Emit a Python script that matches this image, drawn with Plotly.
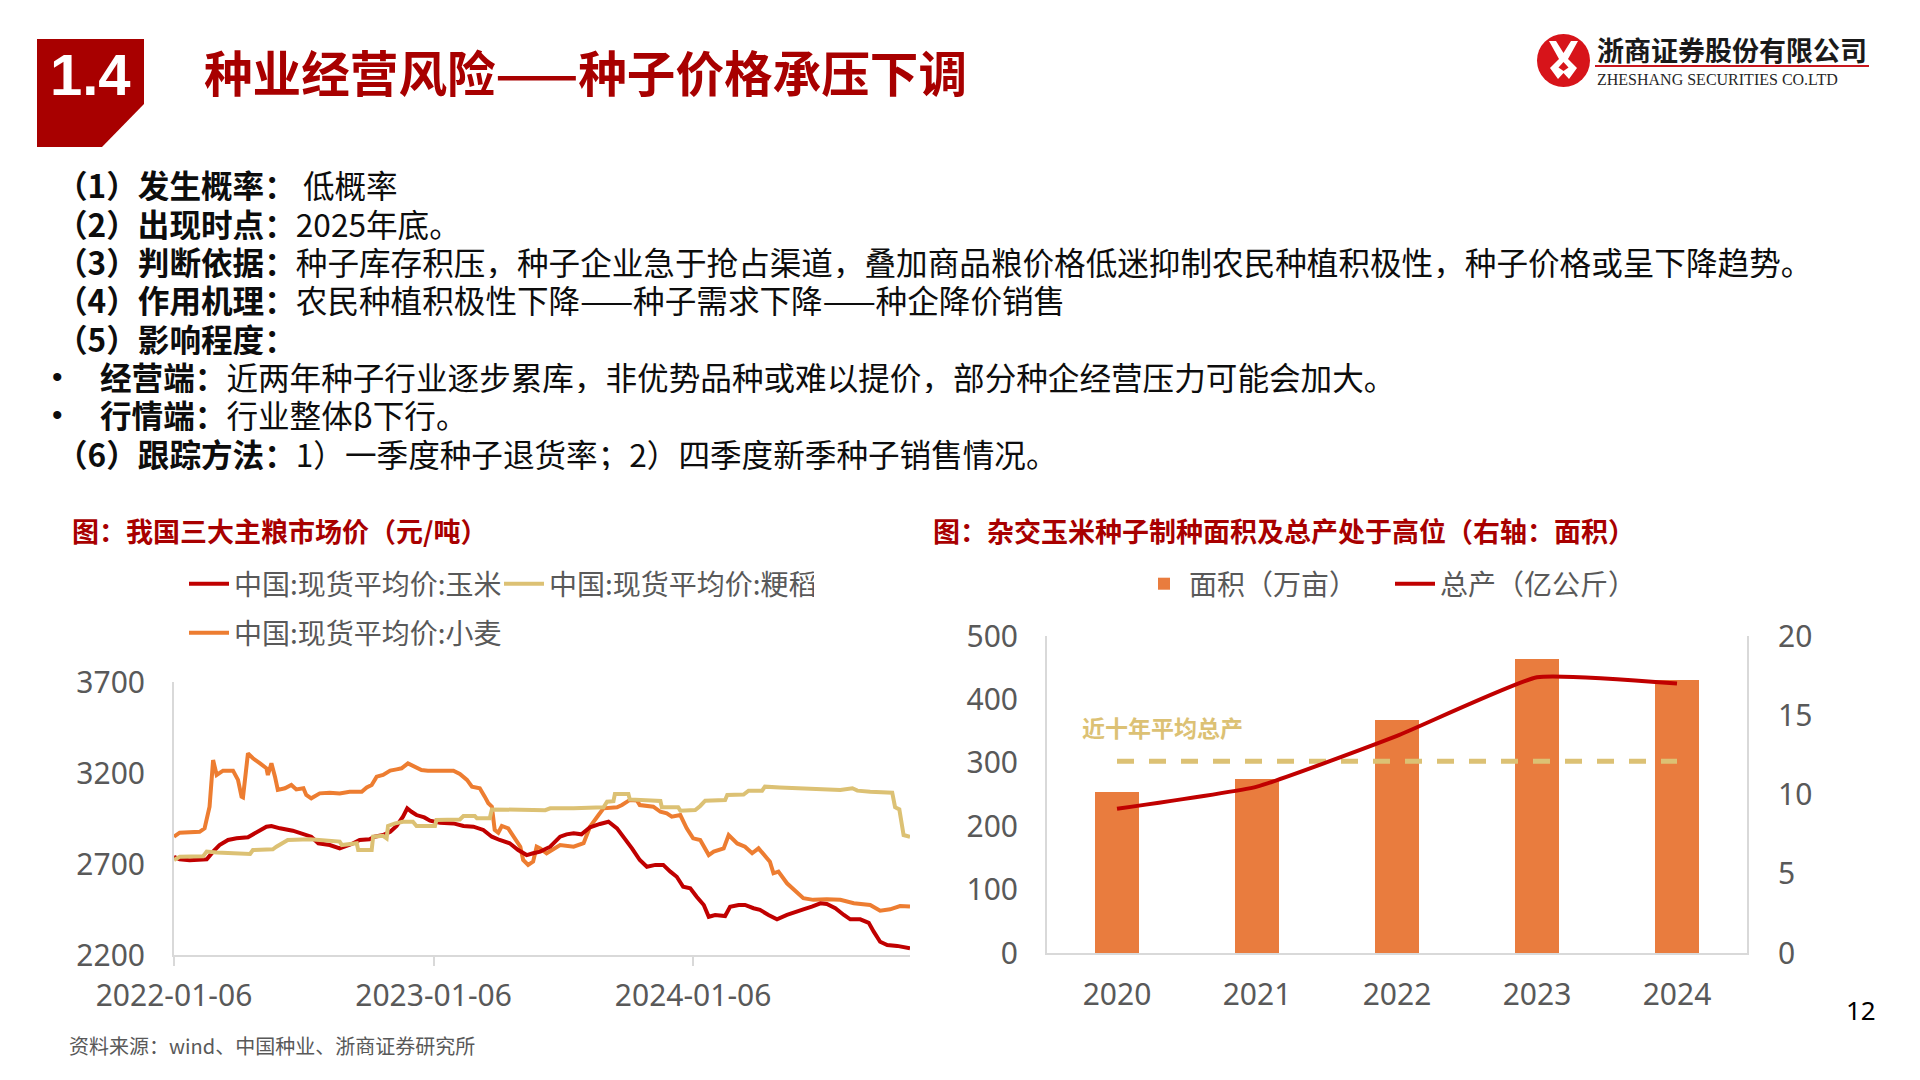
import plotly.graph_objects as go

# ---------------- data ----------------
corn_dates = ["2022-01-06","2022-01-14","2022-01-28","2022-02-21","2022-03-02","2022-03-11","2022-03-23","2022-04-04",
              "2022-04-20","2022-04-30","2022-05-07","2022-05-16","2022-05-23","2022-06-04","2022-06-22","2022-07-04",
              "2022-07-18","2022-07-28","2022-08-13","2022-08-27","2022-09-13","2022-09-24","2022-10-08","2022-10-15",
              "2022-10-27","2022-11-06","2022-11-15","2022-11-24","2022-11-30","2022-12-06","2022-12-13","2022-12-24",
              "2023-01-01","2023-01-15","2023-02-03","2023-02-17","2023-03-03","2023-03-17","2023-03-29","2023-04-09",
              "2023-04-23","2023-05-05","2023-05-17","2023-05-26","2023-06-05","2023-06-19","2023-07-03","2023-07-12",
              "2023-07-22","2023-08-02","2023-08-14","2023-08-28","2023-09-09","2023-09-21","2023-10-02","2023-10-12",
              "2023-10-23","2023-11-02","2023-11-14","2023-11-25","2023-12-05","2023-12-14","2023-12-23","2024-01-02",
              "2024-01-11","2024-01-21","2024-01-28","2024-02-06","2024-02-20","2024-02-27","2024-03-10","2024-03-19",
              "2024-03-31","2024-04-09","2024-04-21","2024-05-03","2024-05-17","2024-05-29","2024-06-09","2024-06-21",
              "2024-07-03","2024-07-12","2024-07-24","2024-08-05","2024-08-14","2024-08-28","2024-09-09","2024-09-16",
              "2024-09-25","2024-10-05","2024-10-19","2024-11-06"]
corn_price = [2740,2726,2720,2726,2768,2804,2832,2841,
              2847,2869,2887,2905,2909,2896,2883,2869,
              2850,2814,2804,2786,2810,2832,2836,2850,
              2859,2877,2909,2960,3006,2987,2969,2956,
              2938,2927,2923,2909,2905,2887,2850,2832,
              2814,2777,2749,2759,2768,2795,2850,2863,
              2869,2863,2902,2920,2932,2896,2841,2786,
              2722,2685,2695,2695,2658,2630,2575,2567,
              2520,2475,2410,2420,2414,2465,2475,2475,
              2457,2448,2420,2396,2420,2438,2451,2466,
              2484,2480,2457,2420,2396,2396,2377,2328,
              2273,2255,2250,2237]

rice_dates = ["2022-01-06","2022-01-14","2022-02-16","2022-02-21","2022-03-07","2022-04-23","2022-04-27","2022-05-25",
              "2022-05-30","2022-06-06","2022-06-15","2022-07-16","2022-08-27","2022-08-30","2022-09-10","2022-09-20",
              "2022-09-22","2022-10-11","2022-10-13","2022-10-27","2022-11-01","2022-11-03","2022-11-13","2022-11-24",
              "2022-12-08","2022-12-13","2023-01-08","2023-01-10","2023-02-12","2023-02-17","2023-03-05","2023-03-08",
              "2023-03-26","2023-03-29","2023-06-12","2023-06-19","2023-07-22","2023-09-02","2023-09-07","2023-09-16",
              "2023-09-18","2023-10-07","2023-10-09","2023-11-21","2023-11-23","2023-12-16","2023-12-19","2024-01-09",
              "2024-01-16","2024-01-23","2024-02-20","2024-02-23","2024-03-17","2024-03-24","2024-04-12","2024-04-16",
              "2024-05-07","2024-06-14","2024-07-31","2024-08-17","2024-08-24","2024-09-11","2024-10-12","2024-10-16",
              "2024-10-22","2024-10-28","2024-11-06"]
rice_price = [2722,2740,2743,2768,2763,2755,2777,2781,
              2795,2814,2832,2836,2823,2804,2810,2814,
              2777,2777,2850,2855,2841,2909,2923,2932,
              2932,2909,2909,2942,2945,2964,2964,2951,
              2951,3000,2996,3006,3006,3012,3042,3045,
              3085,3085,3055,3046,3012,3012,2993,2997,
              3019,3048,3052,3079,3082,3103,3103,3125,
              3121,3116,3107,3116,3103,3097,3092,3012,
              3000,2859,2850]

wheat_dates = ["2022-01-06","2022-01-14","2022-02-11","2022-02-18","2022-02-25","2022-03-02","2022-03-07","2022-03-16",
               "2022-03-30","2022-04-06","2022-04-11","2022-04-13","2022-04-20","2022-04-27","2022-05-07","2022-05-16",
               "2022-05-18","2022-05-23","2022-05-28","2022-06-01","2022-06-11","2022-06-20","2022-06-27","2022-07-07",
               "2022-07-11","2022-07-18","2022-07-30","2022-08-13","2022-08-27","2022-09-10","2022-09-27","2022-10-04",
               "2022-10-11","2022-10-18","2022-10-27","2022-11-06","2022-11-15","2022-11-22","2022-12-01","2022-12-10",
               "2022-12-20","2022-12-29","2023-02-03","2023-02-12","2023-02-22","2023-03-01","2023-03-12","2023-03-19",
               "2023-03-24","2023-03-29","2023-04-02","2023-04-07","2023-04-12","2023-04-21","2023-05-01","2023-05-08",
               "2023-05-12","2023-05-19","2023-05-26","2023-05-31","2023-06-05","2023-06-14","2023-07-03","2023-07-22",
               "2023-08-05","2023-08-14","2023-08-26","2023-09-02","2023-09-21","2023-09-28","2023-10-09","2023-10-19",
               "2023-10-23","2023-11-11","2023-11-21","2023-11-30","2023-12-07","2023-12-19","2023-12-28","2024-01-06",
               "2024-01-16","2024-01-28","2024-02-04","2024-02-18","2024-02-25","2024-03-08","2024-03-19","2024-03-29",
               "2024-04-07","2024-04-23","2024-04-28","2024-05-05","2024-05-17","2024-06-09","2024-06-23","2024-07-12",
               "2024-07-31","2024-08-19","2024-09-11","2024-09-25","2024-10-09","2024-10-23","2024-11-06"]
wheat_price = [2850,2872,2877,2896,3015,3271,3189,3213,
               3213,3162,3070,3066,3308,3281,3253,3226,
               3189,3253,3180,3107,3116,3134,3110,3116,
               3079,3061,3088,3092,3088,3097,3097,3121,
               3134,3180,3189,3213,3220,3226,3253,3238,
               3216,3213,3213,3195,3162,3125,3116,3070,
               3034,3015,2887,2872,2909,2896,2841,2795,
               2722,2695,2713,2795,2786,2759,2804,2795,
               2814,2905,2969,3006,3012,3024,3052,3049,
               3024,3015,2987,2978,2960,2969,2896,2841,
               2832,2749,2768,2786,2859,2813,2795,2759,
               2786,2713,2649,2658,2594,2512,2503,2507,
               2503,2484,2475,2443,2451,2469,2466]

left_ticks = ["2022-01-06", "2023-01-06", "2024-01-06"]
left_yticks = [2200, 2700, 3200, 3700]

years = ["2020", "2021", "2022", "2023", "2024"]
seed_area = [254, 274, 367, 464, 430]          # 万亩 (left axis)
seed_output = [9.1, 10.5, 13.7, 17.4, 17.0]    # 亿公斤 (right axis)
ten_year_avg = [12.1, 12.1, 12.1, 12.1, 12.1]  # 近十年平均总产

# ---------------- helpers ----------------
W, H = 1920, 1080
def px(x): return x / W
def py(y): return 1 - y / H

GRAY = "#595959"
AXIS = "#D9D9D9"
DARKRED = "#A80000"
CJK = "Noto Sans CJK SC"
NUM = "Noto Sans, Noto Sans CJK SC"

fig = go.Figure()

# ---------------- left chart ----------------
fig.add_trace(go.Scatter(x=wheat_dates, y=wheat_price, name="中国:现货平均价:小麦", mode="lines",
                         line=dict(color="#ED7D31", width=4), xaxis="x", yaxis="y", legend="legend2"))
fig.add_trace(go.Scatter(x=corn_dates, y=corn_price, name="中国:现货平均价:玉米", mode="lines",
                         line=dict(color="#C00000", width=4), xaxis="x", yaxis="y", legend="legend"))
fig.add_trace(go.Scatter(x=rice_dates, y=rice_price, name="中国:现货平均价:粳稻", mode="lines",
                         line=dict(color="#DCC174", width=4), xaxis="x", yaxis="y", legend="legend"))

# ---------------- right chart ----------------
fig.add_trace(go.Bar(x=years, y=seed_area, name="面积（万亩）", marker=dict(color="#E97C3E", line=dict(width=0)),
                     width=0.32, xaxis="x2", yaxis="y2", legend="legend3"))
fig.add_trace(go.Scatter(x=years, y=ten_year_avg, mode="lines", showlegend=False,
                         line=dict(color="#DCC174", width=5, dash="17px,15px"), xaxis="x2", yaxis="y3"))
fig.add_trace(go.Scatter(x=years, y=seed_output, name="总产（亿公斤）", mode="lines",
                         line=dict(color="#C00000", width=4, shape="spline", smoothing=0.4),
                         xaxis="x2", yaxis="y3", legend="legend3"))

tickfont = dict(family=NUM, size=30, color=GRAY)
legfont = dict(family=CJK, size=28, color=GRAY)

fig.update_layout(
    width=W, height=H, margin=dict(l=0, r=0, t=0, b=0, autoexpand=False),
    paper_bgcolor="white", plot_bgcolor="white",
    font=dict(family=CJK, color=GRAY),
    bargap=0,
    xaxis=dict(domain=[px(174), px(910)], anchor="y", type="date", automargin=False,
               range=["2022-01-06", "2024-11-06"], tickvals=left_ticks, ticktext=left_ticks,
               showgrid=False, zeroline=False, showline=True, linecolor=AXIS, linewidth=2,
               ticks="outside", ticklen=9, tickwidth=2, tickcolor=AXIS, tickfont=tickfont,
               ticklabelstandoff=4),
    yaxis=dict(domain=[py(955), py(682)], anchor="x", range=[2200, 3700], tickvals=left_yticks,
               automargin=False,
               showgrid=False, zeroline=False, showline=True, linecolor=AXIS, linewidth=2,
               ticks="", tickfont=tickfont, ticklabelstandoff=21),
    xaxis2=dict(domain=[px(1047), px(1747)], anchor="y2", type="category", automargin=False,
                showgrid=False, zeroline=False, showline=True, linecolor=AXIS, linewidth=2,
                ticks="", tickfont=tickfont, ticklabelstandoff=14),
    yaxis2=dict(domain=[py(953), py(636)], anchor="x2", range=[0, 500], dtick=100, automargin=False,
                showgrid=False, zeroline=False, showline=True, linecolor=AXIS, linewidth=2,
                ticks="", tickfont=tickfont, ticklabelstandoff=21),
    yaxis3=dict(overlaying="y2", anchor="x2", side="right", range=[0, 20], dtick=5, automargin=False,
                showgrid=False, zeroline=False, showline=True, linecolor=AXIS, linewidth=2,
                ticks="", tickfont=tickfont, ticklabelstandoff=23),
    legend=dict(x=px(184), y=py(584), xanchor="left", yanchor="middle", orientation="h",
                font=legfont, bgcolor="rgba(0,0,0,0)", entrywidth=260, entrywidthmode="pixels",
                itemwidth=40, tracegroupgap=0),
    legend2=dict(x=px(184), y=py(633), xanchor="left", yanchor="middle", orientation="h",
                 font=legfont, bgcolor="rgba(0,0,0,0)", itemwidth=40),
    legend3=dict(x=px(1139), y=py(584), xanchor="left", yanchor="middle", orientation="h",
                 font=legfont, bgcolor="rgba(0,0,0,0)", entrywidth=196, entrywidthmode="pixels",
                 itemwidth=40),
)

# ---------------- header shapes ----------------
shapes = []
box = [(37, 39), (144, 39), (144, 104), (102, 147), (37, 147)]
path = "M " + " L ".join(f"{px(a):.5f},{py(b):.5f}" for a, b in box) + " Z"
shapes.append(dict(type="path", xref="paper", yref="paper", path=path, fillcolor="#A80000", line=dict(width=0)))
# logo circle
shapes.append(dict(type="circle", xref="paper", yref="paper", x0=px(1537), x1=px(1590), y0=py(87), y1=py(34),
                   fillcolor="#D7141A", line=dict(width=0)))
mark = [(1549, 41), (1556, 41), (1563.5, 53), (1571, 41), (1578, 41), (1568, 59), (1577, 68), (1569, 79),
        (1563.5, 73), (1558, 79), (1550, 68), (1559, 59)]
mpath = "M " + " L ".join(f"{px(a):.5f},{py(b):.5f}" for a, b in mark) + " Z"
shapes.append(dict(type="path", xref="paper", yref="paper", path=mpath, fillcolor="white", line=dict(width=0)))
inner = [(1563.5, 62), (1568.5, 67.5), (1563.5, 71), (1558.5, 67.5)]
ipath = "M " + " L ".join(f"{px(a):.5f},{py(b):.5f}" for a, b in inner) + " Z"
shapes.append(dict(type="path", xref="paper", yref="paper", path=ipath, fillcolor="#D7141A", line=dict(width=0)))
shapes.append(dict(type="line", xref="paper", yref="paper", x0=px(1595), x1=px(1869), y0=py(66), y1=py(66),
                   line=dict(color="#C8161D", width=2)))
fig.update_layout(shapes=shapes)

# ---------------- text ----------------
ann = []
def text(x, y, s, size, color="#000000", family=CJK, xanchor="left", yanchor="middle", height=None):
    a = dict(x=px(x), y=py(y), xref="paper", yref="paper", text=s, showarrow=False,
             xanchor=xanchor, yanchor=yanchor, font=dict(family=family, size=size, color=color))
    if height:
        a["height"] = height
        a["valign"] = "middle"
    ann.append(a)

text(90, 75, "<b>1.4</b>", 58, "white", "Liberation Sans, Arial", xanchor="center")
text(202, 71, "<b>种业经营风险——种子价格承压下调</b>", 48.6, DARKRED)
text(1595, 50, "<b>浙商证券股份有限公司</b>", 27, "#1a1a1a")
text(1595, 79, "ZHESHANG SECURITIES CO.LTD", 16, "#262626", "Liberation Serif, DejaVu Serif")

fs = 31.6
lines = [
    (54, 184, "<b>（1）发生概率：</b> 低概率"),
    (54, 223, "<b>（2）出现时点：</b>2025年底。"),
    (54, 261, "<b>（3）判断依据：</b>种子库存积压，种子企业急于抢占渠道，叠加商品粮价格低迷抑制农民种植积极性，种子价格或呈下降趋势。"),
    (54, 299, "<b>（4）作用机理：</b>农民种植积极性下降——种子需求下降——种企降价销售"),
    (54, 338, "<b>（5）影响程度：</b>"),
    (98, 376, "<b>经营端：</b>近两年种子行业逐步累库，非优势品种或难以提价，部分种企经营压力可能会加大。"),
    (98, 414, "<b>行情端：</b>行业整体β下行。"),
    (54, 453, "<b>（6）跟踪方法：</b>1）一季度种子退货率；2）四季度新季种子销售情况。"),
]
for x, y, s in lines:
    text(x, y, s, fs, "#0d0d0d", height=34)
text(50, 376, "•", 30, "#0d0d0d", "Liberation Sans, Arial", height=30)
text(50, 414, "•", 30, "#0d0d0d", "Liberation Sans, Arial", height=30)

text(70, 530, "<b>图：我国三大主粮市场价（元/吨）</b>", 27, DARKRED)
text(931, 530, "<b>图：杂交玉米种子制种面积及总产处于高位（右轴：面积）</b>", 27, DARKRED)
text(1080, 727, "<b>近十年平均总产</b>", 23, "#DCC174")
text(67, 1045, "资料来源：wind、中国种业、浙商证券研究所", 20, GRAY)
text(1861, 1010, "12", 26, "#000000", "Noto Sans, Arial", xanchor="center")

fig.update_layout(annotations=ann)

fig.write_html("out.html", config={"displayModeBar": False},
               post_script="document.body.style.margin='0';document.body.style.overflow='hidden';")
